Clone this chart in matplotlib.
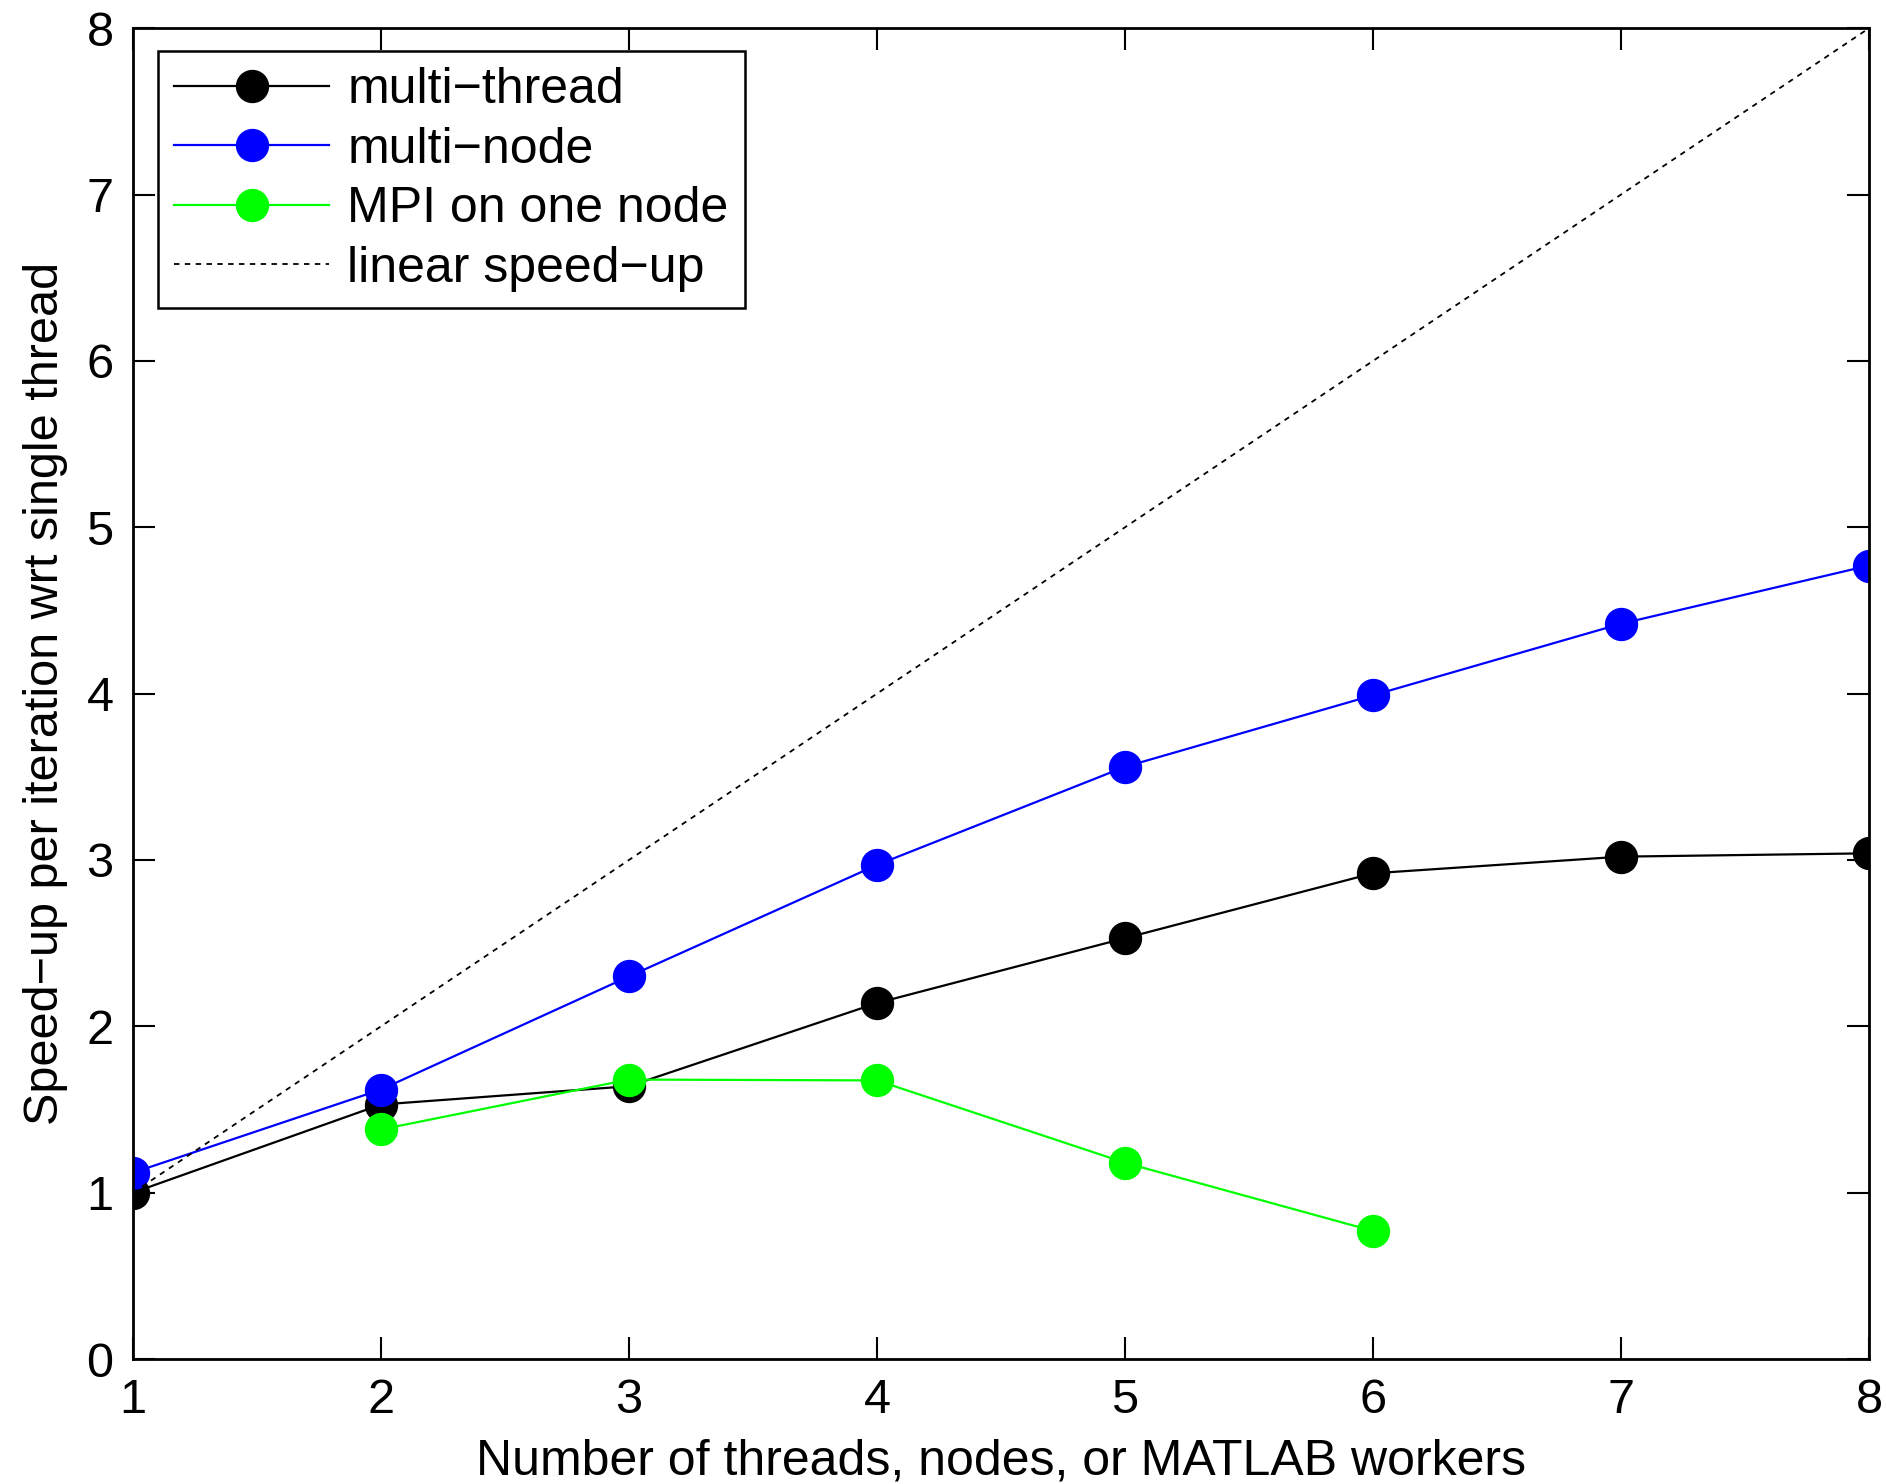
import matplotlib
matplotlib.use("Agg")
import matplotlib.pyplot as plt

plt.rcParams["font.family"] = ["Liberation Sans", "DejaVu Sans"]

# speed-up per iteration, read per worker count
workers = [1, 2, 3, 4, 5, 6, 7, 8]
multi_thread = [1.00, 1.53, 1.64, 2.14, 2.53, 2.92, 3.02, 3.04]
multi_node = [1.12, 1.62, 2.30, 2.97, 3.56, 3.99, 4.42, 4.77]
mpi_workers = [2, 3, 4, 5, 6]
mpi_one_node = [1.38, 1.68, 1.675, 1.18, 0.77]
linear = [1, 8]

fig = plt.figure(figsize=(18.86, 14.84), dpi=100)
ax = fig.add_axes([0.0705, 0.0842, 0.9205, 0.8968])

mk = dict(marker="o", markersize=23, linewidth=1.6)
ax.plot(workers, multi_thread, color="k", label="multi\u2212thread", **mk)
ax.plot(workers, multi_node, color="#0000ff", label="multi\u2212node", **mk)
ax.plot(mpi_workers, mpi_one_node, color="#00ff00", label="MPI on one node", **mk)
ax.plot(linear, linear, color="k", linestyle=(0, (3, 3)), linewidth=1.3,
        label="linear speed\u2212up")

ax.set_xlim(1, 8)
ax.set_ylim(0, 8)
ax.set_xticks(range(1, 9))
ax.set_yticks(range(0, 9))
ax.tick_params(direction="in", length=16, width=1.5, labelsize=35,
               top=True, right=True, pad=14)
for s in ax.spines.values():
    s.set_linewidth(2)
    s.set_zorder(5)

ax.set_xlabel("Number of threads, nodes, or MATLAB workers", fontsize=36, labelpad=11)
ax.set_ylabel("Speed\u2212up per iteration wrt single thread", fontsize=35, labelpad=13)

leg = ax.legend(loc="upper left", bbox_to_anchor=(0.0144, 0.983), fontsize=36,
                handlelength=3.1, handletextpad=0.36, labelspacing=0.27,
                borderpad=0.33, borderaxespad=0, fancybox=False, framealpha=1,
                edgecolor="k")
leg.get_frame().set_linewidth(1.8)

fig.savefig("out.png", dpi=100)
